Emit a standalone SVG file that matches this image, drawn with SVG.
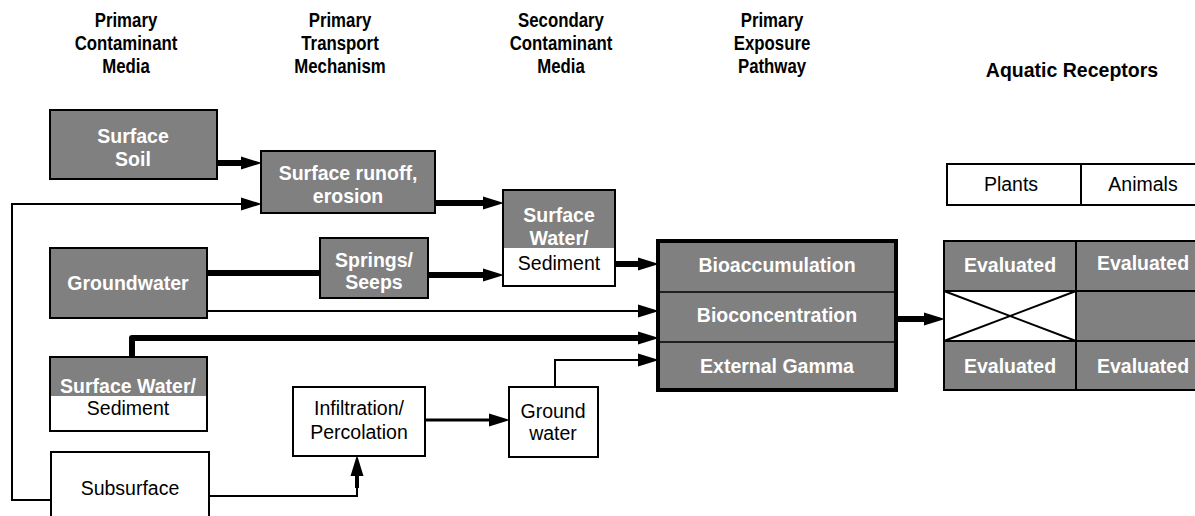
<svg xmlns="http://www.w3.org/2000/svg" width="1195" height="516" viewBox="0 0 1195 516">
  <style>
    .g { fill: #808080; stroke: #000; stroke-width: 2; }
    .w { fill: #fff; stroke: #000; stroke-width: 2; }
    .band { fill: #808080; stroke: none; }
    .frame { fill: none; stroke: #000; stroke-width: 2; }
    text { font-family: "Liberation Sans", Arial, Helvetica, sans-serif; font-size: 19.5px; text-anchor: middle; }
    .tb { font-weight: bold; fill: #fff; }
    .tr { fill: #000; }
    .hd { font-weight: bold; fill: #000; }
    .hn { font-weight: bold; fill: #000; font-size: 20.5px; }
    .thin { fill: none; stroke: #000; stroke-width: 2; }
    .mid { fill: none; stroke: #000; stroke-width: 3; }
    .thick { fill: none; stroke: #000; stroke-width: 6; }
    .dot { fill: none; stroke: #000; stroke-width: 6; stroke-linecap: round; stroke-linejoin: round; }
    .rule { fill: none; stroke: #000; stroke-width: 1.5; }
  </style>
  <defs>
    <marker id="arrow" markerUnits="userSpaceOnUse" markerWidth="22" markerHeight="14" refX="0" refY="7" orient="auto" overflow="visible">
      <path d="M0,0.5 L21,7 L0,13.5 Z" fill="#000"/>
    </marker>
  </defs>

  <!-- column headings (narrow bold face) -->
  <g id="headings">
    <g transform="translate(126 0) scale(0.82 1)">
      <text class="hn" x="0" y="27">Primary</text>
      <text class="hn" x="0" y="50">Contaminant</text>
      <text class="hn" x="0" y="73">Media</text>
    </g>
    <g transform="translate(340 0) scale(0.82 1)">
      <text class="hn" x="0" y="27">Primary</text>
      <text class="hn" x="0" y="50">Transport</text>
      <text class="hn" x="0" y="73">Mechanism</text>
    </g>
    <g transform="translate(561 0) scale(0.82 1)">
      <text class="hn" x="0" y="27">Secondary</text>
      <text class="hn" x="0" y="50">Contaminant</text>
      <text class="hn" x="0" y="73">Media</text>
    </g>
    <g transform="translate(772 0) scale(0.82 1)">
      <text class="hn" x="0" y="27">Primary</text>
      <text class="hn" x="0" y="50">Exposure</text>
      <text class="hn" x="0" y="73">Pathway</text>
    </g>
    <text class="hd" x="1072" y="77">Aquatic Receptors</text>
  </g>

  <!-- connectors -->
  <g id="connectors">
    <path class="thick" d="M217,163 H241" marker-end="url(#arrow)"/>
    <path class="thin" d="M51,500 H12 V204 H241" marker-end="url(#arrow)"/>
    <path class="dot" d="M207,273 H320"/>
    <path class="thick" d="M428,275 H483" marker-end="url(#arrow)"/>
    <path class="thick" d="M435,203 H483" marker-end="url(#arrow)"/>
    <path class="thick" d="M615,264 H638" marker-end="url(#arrow)"/>
    <path class="thin" d="M207,311 H638" marker-end="url(#arrow)"/>
    <path class="dot" d="M132,357 V338 H620"/>
    <path class="thick" d="M620,338 H638" marker-end="url(#arrow)"/>
    <path class="thin" d="M555,387 V360 H638" marker-end="url(#arrow)"/>
    <path class="thin" d="M209,496 H357 V486"/>
    <path class="thick" d="M357,488 V476" style="stroke-width:4" marker-end="url(#arrow)"/>
    <path class="mid" d="M425,420 H489" marker-end="url(#arrow)"/>
    <path class="thick" d="M896,319 H924" marker-end="url(#arrow)"/>
  </g>

  <!-- primary contaminant media -->
  <g id="surface-soil">
    <rect class="g" x="50" y="110" width="167" height="69"/>
    <text class="tb" x="133" y="143">Surface</text>
    <text class="tb" x="133" y="166">Soil</text>
  </g>
  <g id="groundwater">
    <rect class="g" x="50" y="248" width="157" height="70"/>
    <text class="tb" x="128" y="290">Groundwater</text>
  </g>
  <g id="surface-water-sediment">
    <rect class="w" x="50" y="357" width="157" height="74"/>
    <rect class="band" x="51" y="358" width="155" height="38"/>
    <rect class="frame" x="50" y="357" width="157" height="74"/>
    <text class="tb" x="128" y="393">Surface Water/</text>
    <text class="tr" x="128" y="415">Sediment</text>
  </g>
  <g id="subsurface">
    <rect class="w" x="51" y="452" width="158" height="70"/>
    <text class="tr" x="130" y="495">Subsurface</text>
  </g>

  <!-- primary transport mechanism -->
  <g id="surface-runoff">
    <rect class="g" x="261" y="151" width="174" height="62"/>
    <text class="tb" x="348" y="180">Surface runoff,</text>
    <text class="tb" x="348" y="203">erosion</text>
  </g>
  <g id="springs-seeps">
    <rect class="g" x="320" y="238" width="108" height="60"/>
    <text class="tb" x="374" y="267">Springs/</text>
    <text class="tb" x="374" y="289">Seeps</text>
  </g>
  <g id="infiltration">
    <rect class="w" x="293" y="387" width="132" height="69"/>
    <text class="tr" x="359" y="415">Infiltration/</text>
    <text class="tr" x="359" y="439">Percolation</text>
  </g>

  <!-- secondary contaminant media -->
  <g id="secondary-surface-water">
    <rect class="w" x="503" y="190" width="112" height="96"/>
    <rect class="band" x="504" y="191" width="110" height="57"/>
    <rect class="frame" x="503" y="190" width="112" height="96"/>
    <text class="tb" x="559" y="222">Surface</text>
    <text class="tb" x="559" y="245">Water/</text>
    <text class="tr" x="559" y="270">Sediment</text>
  </g>
  <g id="ground-water">
    <rect class="w" x="509" y="387" width="89" height="70"/>
    <text class="tr" x="553" y="418">Ground</text>
    <text class="tr" x="553" y="440">water</text>
  </g>

  <!-- primary exposure pathway -->
  <g id="exposure-pathway">
    <rect x="658" y="241" width="238" height="149" fill="#808080" stroke="#000" stroke-width="4"/>
    <line class="rule" x1="658" y1="292" x2="896" y2="292"/>
    <line class="rule" x1="658" y1="342" x2="896" y2="342"/>
    <text class="tb" x="777" y="272">Bioaccumulation</text>
    <text class="tb" x="777" y="322">Bioconcentration</text>
    <text class="tb" x="777" y="373">External Gamma</text>
  </g>

  <!-- aquatic receptors -->
  <g id="receptor-heading">
    <rect class="w" x="947" y="164" width="270" height="41"/>
    <line class="frame" x1="1081" y1="164" x2="1081" y2="205"/>
    <text class="tr" x="1011" y="191">Plants</text>
    <text class="tr" x="1143" y="191">Animals</text>
  </g>
  <g id="receptor-matrix">
    <rect class="g" x="944" y="241" width="270" height="149"/>
    <rect x="945" y="291" width="131" height="50" fill="#fff"/>
    <line class="frame" x1="944" y1="291" x2="1214" y2="291"/>
    <line class="frame" x1="944" y1="341" x2="1214" y2="341"/>
    <line class="frame" x1="1076" y1="241" x2="1076" y2="390"/>
    <line class="frame" x1="944" y1="291" x2="1076" y2="341"/>
    <line class="frame" x1="944" y1="341" x2="1076" y2="291"/>
    <text class="tb" x="1010" y="272">Evaluated</text>
    <text class="tb" x="1143" y="270">Evaluated</text>
    <text class="tb" x="1010" y="373">Evaluated</text>
    <text class="tb" x="1143" y="373">Evaluated</text>
  </g>
</svg>
